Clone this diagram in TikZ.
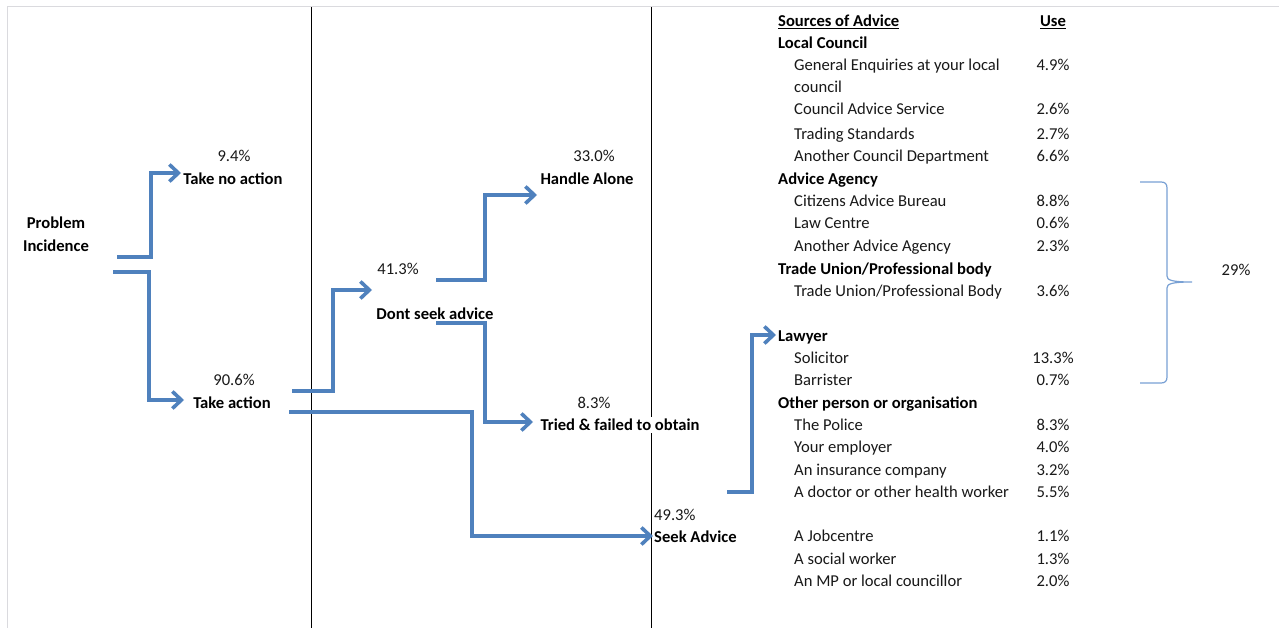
\documentclass[tikz,border=0pt]{standalone}
\usepackage{fontspec}
\setmainfont{Carlito}
\usetikzlibrary{arrows.meta}
\definecolor{flowblue}{RGB}{79,129,189}
\definecolor{bracecol}{RGB}{120,160,212}
\definecolor{framegray}{RGB}{218,218,222}
\definecolor{txtcol}{RGB}{25,25,25}
\begin{document}
\begin{tikzpicture}[x=1pt,y=-1pt,
  txt/.style={inner sep=0pt, yshift=-1.5pt, text=txtcol, font=\fontsize{16.6}{19}\selectfont},
  btxt/.style={inner sep=0pt, yshift=-1.5pt, text=black, font=\fontsize{16.6}{19}\selectfont\bfseries},
  flow/.style={draw=flowblue, line width=4pt, line join=miter,
    -{Straight Barb[length=9pt,width=17pt,line width=3.6pt]}},
  divider/.style={draw=black, line width=0.9pt},
  frameline/.style={draw=framegray, line width=1pt},
  bracestyle/.style={draw=bracecol, line width=1.2pt}]
\useasboundingbox (0,0) rectangle (1279,628);
\fill[white] (0,0) rectangle (1279,628);
% frame and dividers
\draw[frameline] (7,628) -- (7,7) -- (1279,7);
\draw[divider] (311,7) -- (311,628);
\draw[divider] (651,7) -- (651,628);

% coordinates for connector ends
\coordinate (s1) at (117,257);
\coordinate (t1) at (181,173);
\coordinate (s2) at (113,272);
\coordinate (t2) at (184,400);
\coordinate (s3) at (292,391);
\coordinate (t3) at (372,290);
\coordinate (s4) at (289,412);
\coordinate (t4) at (653,536);
\coordinate (s5) at (436,280);
\coordinate (t5) at (537,195);
\coordinate (s6) at (436,323);
\coordinate (t6) at (533,422);
\coordinate (s7) at (727,492);
\coordinate (t7) at (776,335);

% connectors
\draw[flow] (s1) -- ++(34,0) |- (t1);
\draw[flow] (s2) -- ++(36,0) |- (t2);
\draw[flow] (s3) -- ++(41,0) |- (t3);
\draw[flow] (s4) -- ++(183,0) |- (t4);
\draw[flow] (s5) -- ++(49,0) |- (t5);
\draw[flow] (s6) -- ++(49,0) |- (t6);
\draw[flow] (s7) -- ++(25,0) |- (t7);

% left part labels
\node[btxt, anchor=base] (pi1) at (56,227) {Problem};
\node[btxt, anchor=base] (pi2) at (56,250) {Incidence};
\node[txt, anchor=base] (p1) at (234,160) {9.4\%};
\node[btxt, anchor=base] (tna) at (233,183) {Take no action};
\node[txt, anchor=base] (p2) at (234,384) {90.6\%};
\node[btxt, anchor=base] (ta) at (232,407) {Take action};
\node[txt, anchor=base] (p3) at (398,273) {41.3\%};
\node[btxt, anchor=base] (dsa) at (435,318) {Dont seek advice};
\node[txt, anchor=base] (p4) at (594,160) {33.0\%};
\node[btxt, anchor=base] (ha) at (587,183) {Handle Alone};
\node[txt, anchor=base] (p5) at (594,407) {8.3\%};
\node[btxt, anchor=base, fill=white, inner ysep=2pt] (tf) at (620,429) {Tried \& failed to obtain};
\node[txt, anchor=base west] (p6) at (654,519) {49.3\%};
\node[btxt, anchor=base west] (sa) at (654,541) {Seek Advice};

% table
\node[btxt, anchor=base west] (hsrc) at (778,25) {\underline{Sources of Advice}};
\node[btxt, anchor=base] (huse) at (1053,25) {\underline{Use}};
\foreach \name/\y/\t in {g1/47/Local Council, g2/183/Advice Agency, g3/273/Trade Union\slash Professional body, g4/340/Lawyer, g5/407/Other person or organisation}
  \node[btxt, anchor=base west] (\name) at (778,\y) {\t};
\foreach \name/\y/\t/\v in {
  r1/69/General Enquiries at your local/4.9\%,
  r2/113/Council Advice Service/2.6\%,
  r3/138/Trading Standards/2.7\%,
  r4/160/Another Council Department/6.6\%,
  r5/205/Citizens Advice Bureau/8.8\%,
  r6/227/Law Centre/0.6\%,
  r7/250/Another Advice Agency/2.3\%,
  r8/295/Trade Union\slash Professional Body/3.6\%,
  r9/362/Solicitor/13.3\%,
  r10/384/Barrister/0.7\%,
  r11/429/The Police/8.3\%,
  r12/451/Your employer/4.0\%,
  r13/474/An insurance company/3.2\%,
  r14/496/A doctor or other health worker/5.5\%,
  r15/540/A Jobcentre/1.1\%,
  r16/563/A social worker/1.3\%,
  r17/585/An MP or local councillor/2.0\%}
{
  \node[txt, anchor=base west] (\name) at (794,\y) {\t};
  \node[txt, anchor=base] (\name v) at (1053,\y) {\v};
}
\node[txt, anchor=base west] (r1b) at (794,91) {council};

% brace
\draw[bracestyle] (1140,182) -- (1161,182) .. controls (1165,182) and (1167,184) .. (1167,188)
  -- (1167,276) .. controls (1167,280) and (1171,282) .. (1192,282)
  .. controls (1171,282) and (1167,284) .. (1167,288)
  -- (1167,377) .. controls (1167,381) and (1165,383) .. (1161,383) -- (1140,383);
\node[txt, anchor=base] (pct) at (1236,274) {29\%};
\end{tikzpicture}
\end{document}
